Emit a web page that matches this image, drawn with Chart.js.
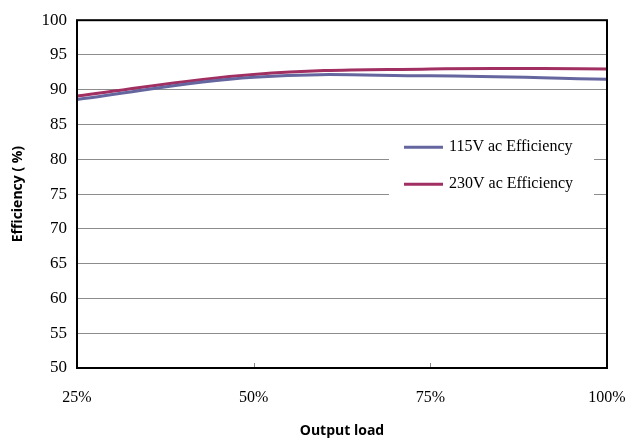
<!DOCTYPE html>
<html>
<head>
<meta charset="utf-8">
<script src="https://cdn.jsdelivr.net/npm/chart.js@4/dist/chart.umd.min.js"></script>
<style>
  html, body { margin: 0; padding: 0; background: #fff; }
  #wrap { width: 625px; height: 443px; }
</style>
</head>
<body>
<div id="wrap"><canvas id="box"></canvas></div>
<script>
var loads = ['25%', '50%', '75%', '100%'];
var eff115 = [88.6, 91.8, 92.0, 91.5];
var eff230 = [89.1, 92.2, 93.0, 93.0];
var seriesNames = ['115V ac Efficiency', '230V ac Efficiency'];

var col115 = '#65659f';
var col230 = '#a12f62';

// frame, inner x ticks and the boxed legend inside the plot
var framePlugin = {
    id: 'frame',
    afterDatasetsDraw: function (chart) {
        var ctx = chart.ctx;
        var a = chart.chartArea;
        var xs = chart.scales.x;

        ctx.save();
        // small tick marks on the bottom edge
        ctx.strokeStyle = '#888';
        ctx.lineWidth = 1;
        for (var i = 1; i < loads.length - 1; i++) {
            var px = Math.round(xs.getPixelForValue(i)) + 0.5;
            ctx.beginPath();
            ctx.moveTo(px, a.bottom);
            ctx.lineTo(px, a.bottom - 5);
            ctx.stroke();
        }

        // legend box
        var lx = a.right - 218, ly = a.top + 108, lw = 205, lh = 88;
        ctx.fillStyle = '#fff';
        ctx.fillRect(lx, ly, lw, lh);
        ctx.font = '16px "Liberation Serif"';
        ctx.textBaseline = 'middle';
        chart.data.datasets.forEach(function (ds, k) {
            var yy = ly + 19 + k * 37;
            ctx.strokeStyle = ds.borderColor;
            ctx.lineWidth = 3;
            ctx.beginPath();
            ctx.moveTo(lx + 15, yy);
            ctx.lineTo(lx + 54, yy);
            ctx.stroke();
            ctx.fillStyle = '#000';
            ctx.fillText(ds.label, lx + 60, yy);
        });

        // black frame round the plot
        ctx.strokeStyle = '#000';
        ctx.lineWidth = 2;
        ctx.strokeRect(a.left, a.top, a.right - a.left, a.bottom - a.top);
        ctx.restore();
    }
};

var mychart = new Chart('box', {
    type: 'line',
    data: {
        labels: loads,
        datasets: [
            {
                label: seriesNames[0],
                data: eff115,
                borderColor: col115,
                borderWidth: 3,
                fill: false,
                tension: 0.4,
                pointRadius: 0
            },
            {
                label: seriesNames[1],
                data: eff230,
                borderColor: col230,
                borderWidth: 3,
                fill: false,
                tension: 0.4,
                pointRadius: 0
            }
        ]
    },
    options: {
        responsive: true,
        maintainAspectRatio: false,
        animation: false,
        layout: { padding: { top: 19, right: 18, left: 0, bottom: 4 } },
        plugins: {
            legend: { display: false },
            tooltip: { enabled: false }
        },
        scales: {
            x: {
                offset: false,
                grid: { display: false },
                border: { display: false },
                ticks: {
                    color: '#000',
                    padding: 12,
                    maxRotation: 0,
                    font: { family: '"Liberation Serif"', size: 16 }
                },
                title: {
                    display: true,
                    text: 'Output load',
                    color: '#000',
                    padding: { top: 12, bottom: 0 },
                    font: { family: '"Open Sans"', size: 14, weight: 'bold' }
                },
                afterFit: function (axis) {
                    axis.height = 71;
                    axis.paddingLeft = 0;
                    axis.paddingRight = 0;
                }
            },
            y: {
                min: 50,
                max: 100,
                ticks: {
                    stepSize: 5,
                    color: '#000',
                    padding: 10,
                    font: { family: '"Liberation Serif"', size: 17 }
                },
                grid: { color: '#8c8c8c', lineWidth: 1, drawTicks: false },
                border: { display: false },
                title: {
                    display: true,
                    text: 'Efficiency ( %)',
                    color: '#000',
                    padding: { top: 10, bottom: 4 },
                    font: { family: '"Open Sans"', size: 14, weight: 'bold' }
                },
                afterFit: function (axis) { axis.width = 77; }
            }
        }
    },
    plugins: [framePlugin]
});
</script>
</body>
</html>
